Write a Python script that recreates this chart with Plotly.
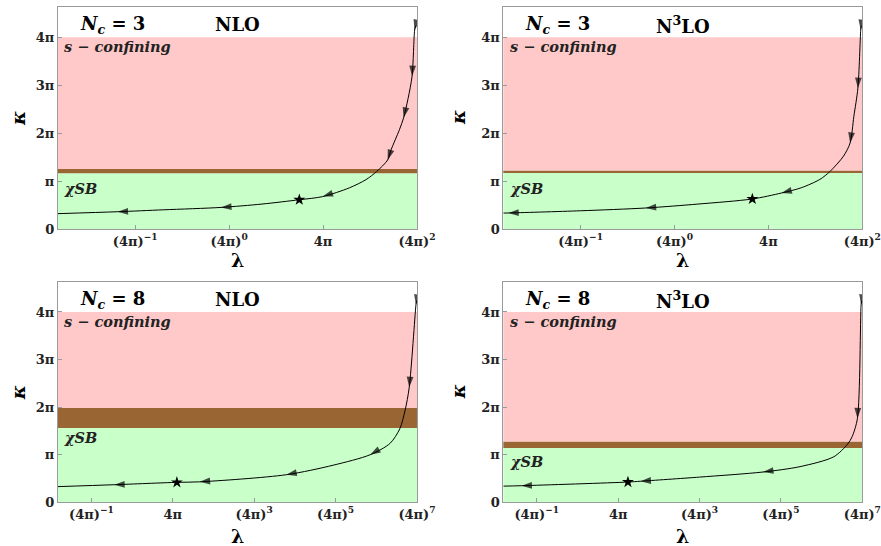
import plotly.graph_objects as go

# ---------------- data (x: log_{4pi}(lambda), y: kappa / pi) ----------------
TL_X = [1.985, 1.975, 1.948, 1.905, 1.858, 1.813, 1.724, 1.688, 1.571, 1.458, 1.28, 0.996, 0.747, 0.35, -0.086, -0.70, -1.187, -1.8225]
TL_Y = [4.24, 4.15, 3.19, 2.72, 2.32, 2.07, 1.65, 1.44, 1.20, 1.03, 0.858, 0.676, 0.61, 0.52, 0.45, 0.40, 0.36, 0.32]
TL_ARROWS = [1, 2, 4, 7, 11, 14, 16]
TL_STAR = (0.747, 0.61)

TR_X = [1.988, 1.983, 1.953, 1.91, 1.87, 1.80, 1.656, 1.549, 1.35, 1.139, 0.829, 0.25, -0.306, -1.0, -1.77, -1.8225]
TR_Y = [4.24, 4.15, 2.94, 2.35, 1.795, 1.52, 1.20, 1.035, 0.86, 0.75, 0.626, 0.52, 0.438, 0.38, 0.334, 0.332]
TR_ARROWS = [1, 2, 4, 9, 12, 14]
TR_STAR = (0.829, 0.626)

BL_X = [6.99, 6.975, 6.81, 6.71, 6.58, 6.34, 5.85, 4.94, 3.79, 1.66, 1.10, -0.44, -1.8225]
BL_Y = [4.24, 4.15, 2.42, 1.94, 1.55, 1.24, 1.00, 0.78, 0.58, 0.43, 0.42, 0.37, 0.33]
BL_ARROWS = [1, 2, 6, 8, 9, 11]
BL_STAR = (1.10, 0.42)

BR_X = [6.985, 6.97, 6.88, 6.75, 6.64, 6.30, 5.47, 4.56, 3.0, 1.55, 1.24, -1.376, -1.8225]
BR_Y = [4.24, 4.15, 1.765, 1.38, 1.225, 0.958, 0.75, 0.637, 0.53, 0.443, 0.426, 0.349, 0.34]
BR_ARROWS = [1, 2, 7, 9, 11]
BR_STAR = (1.24, 0.426)

# region boundaries (kappa / pi): green [0, lo], brown [lo, hi], pink [hi, 4]
TL_BAND = (1.16, 1.25)
TR_BAND = (1.17, 1.22)
BL_BAND = (1.56, 1.98)
BR_BAND = (1.14, 1.28)
PINK_TOP = 4.0

TITLES_NC = ["3", "3", "8", "8"]
TITLES_ORDER = ["NLO", "N<sup>3</sup>LO", "NLO", "N<sup>3</sup>LO"]

X_TICKS_TOP = [-1, 0, 1, 2]
X_TICKTEXT_TOP = ["(4π)<sup>−1</sup>", "(4π)<sup>0</sup>", "4π", "(4π)<sup>2</sup>"]
X_TICKS_BOT = [-1, 1, 3, 5, 7]
X_TICKTEXT_BOT = ["(4π)<sup>−1</sup>", "4π", "(4π)<sup>3</sup>", "(4π)<sup>5</sup>", "(4π)<sup>7</sup>"]
Y_TICKS = [0, 1, 2, 3, 4]
Y_TICKTEXT = ["0", "π", "2π", "3π", "4π"]

CHI_Y = [0.85, 0.85, 1.37, 0.86]
SCONF_Y = 3.81

PINK = "#FFC9C9"
GREEN = "#C9FFC9"
BROWN = "#996633"
FRAME = "#9a9a9a"
SERIF = "DejaVu Serif"

panels = [
    dict(x=TL_X, y=TL_Y, arrows=TL_ARROWS, star=TL_STAR, band=TL_BAND, xr=[-1.8225, 2.0],
         tv=X_TICKS_TOP, tt=X_TICKTEXT_TOP, dx=[0.0658, 0.4733], dy=[0.5806, 0.9872],
         kx=0.0204, ly=0.5238),
    dict(x=TR_X, y=TR_Y, arrows=TR_ARROWS, star=TR_STAR, band=TR_BAND, xr=[-1.8225, 2.0],
         tv=X_TICKS_TOP, tt=X_TICKTEXT_TOP, dx=[0.5713, 0.9788], dy=[0.5806, 0.9872],
         kx=0.520, ly=0.5238),
    dict(x=BL_X, y=BL_Y, arrows=BL_ARROWS, star=BL_STAR, band=BL_BAND, xr=[-1.8225, 7.0],
         tv=X_TICKS_BOT, tt=X_TICKTEXT_BOT, dx=[0.0658, 0.4733], dy=[0.0800, 0.4835],
         kx=0.0204, ly=0.0183),
    dict(x=BR_X, y=BR_Y, arrows=BR_ARROWS, star=BR_STAR, band=BR_BAND, xr=[-1.8225, 7.0],
         tv=X_TICKS_BOT, tt=X_TICKTEXT_BOT, dx=[0.5713, 0.9788], dy=[0.0800, 0.4835],
         kx=0.520, ly=0.0183),
]

fig = go.Figure()
shapes = []
annotations = []

for i, p in enumerate(panels):
    n = "" if i == 0 else str(i + 1)
    xref, yref = "x" + n, "y" + n

    # curve
    fig.add_trace(go.Scatter(x=p["x"], y=p["y"], mode="lines", xaxis=xref, yaxis=yref,
                             line=dict(color="black", width=1, shape="spline", smoothing=0.8),
                             showlegend=False, hoverinfo="skip"))
    # arrowheads
    ax, ay, sz = [], [], []
    for j in p["arrows"]:
        ax += [p["x"][j - 1], p["x"][j]]
        ay += [p["y"][j - 1], p["y"][j]]
        sz += [0, 11]
    fig.add_trace(go.Scatter(x=ax, y=ay, mode="markers", xaxis=xref, yaxis=yref,
                             marker=dict(symbol="arrow", size=sz, color="black", angleref="previous",
                                         line=dict(width=0)),
                             showlegend=False, hoverinfo="skip"))
    # star
    fig.add_trace(go.Scatter(x=[p["star"][0]], y=[p["star"][1]], mode="markers", xaxis=xref, yaxis=yref,
                             marker=dict(symbol="star", size=9, color="black", line=dict(width=0)),
                             showlegend=False, hoverinfo="skip"))

    lo, hi = p["band"]
    for y0, y1, col in [(0, lo, GREEN), (lo, hi, BROWN), (hi, PINK_TOP, PINK)]:
        shapes.append(dict(type="rect", xref=xref + " domain", yref=yref, x0=0, x1=1, y0=y0, y1=y1,
                           fillcolor=col, line=dict(width=0), layer="below"))

    axis_common = dict(ticks="inside", ticklen=4, tickcolor=FRAME, showgrid=False, zeroline=False,
                       showline=True, mirror=True, linecolor=FRAME, linewidth=1, automargin=False,
                       tickfont=dict(family=SERIF, size=13, color="#222", weight="bold"))
    fig.update_layout(**{
        "xaxis" + n: dict(domain=p["dx"], range=p["xr"], anchor=yref, tickvals=p["tv"], ticktext=p["tt"],
                          **axis_common),
        "yaxis" + n: dict(domain=p["dy"], range=[0, 4.63], anchor=xref, tickvals=Y_TICKS, ticktext=Y_TICKTEXT,
                          **axis_common),
    })

    # panel texts
    annotations.append(dict(xref=xref + " domain", yref=yref + " domain", x=0.152, y=0.92,
                            xanchor="center", yanchor="middle",
                            text="<b><i>N</i><sub><i>c</i></sub> = " + TITLES_NC[i] + "</b>",
                            showarrow=False, font=dict(family=SERIF, size=18, color="black")))
    annotations.append(dict(xref=xref + " domain", yref=yref + " domain", x=0.50, y=0.92,
                            xanchor="center", yanchor="middle",
                            text="<b>" + TITLES_ORDER[i] + "</b>",
                            showarrow=False, font=dict(family=SERIF, size=18, color="black")))
    annotations.append(dict(xref=xref + " domain", yref=yref, x=0.012, y=SCONF_Y,
                            xanchor="left", yanchor="middle",
                            text="<b><i>s − confining</i></b>", showarrow=False,
                            font=dict(family=SERIF, size=14.5, color="#222")))
    annotations.append(dict(xref=xref + " domain", yref=yref, x=0.012, y=CHI_Y[i],
                            xanchor="left", yanchor="middle",
                            text="<b><i>χSB</i></b>", showarrow=False,
                            font=dict(family=SERIF, size=14.5, color="#222")))
    # axis titles
    annotations.append(dict(xref="paper", yref=yref + " domain", x=p["kx"], y=0.5,
                            xanchor="center", yanchor="middle",
                            text="<b><i>κ</i></b>", textangle=-90, showarrow=False,
                            font=dict(family=SERIF, size=19, color="black")))
    annotations.append(dict(xref=xref + " domain", yref="paper", x=0.5, y=p["ly"],
                            xanchor="center", yanchor="middle",
                            text="<b>λ</b>", showarrow=False,
                            font=dict(family=SERIF, size=19, color="black")))

fig.update_layout(width=881, height=546, margin=dict(l=0, r=0, t=0, b=0),
                  paper_bgcolor="white", plot_bgcolor="white",
                  shapes=shapes, annotations=annotations, showlegend=False)

fig.write_html("out.html", config={"displayModeBar": False},
               post_script="document.body.style.margin='0';document.body.style.overflow='hidden';")
